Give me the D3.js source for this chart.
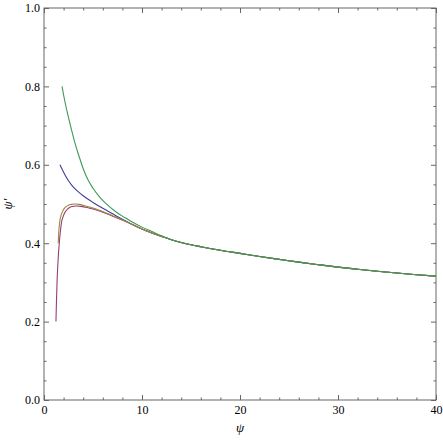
<!DOCTYPE html>
<html>
<head>
<meta charset="utf-8">
<script src="https://cdn.jsdelivr.net/npm/d3@7"></script>
<style>
  body { margin: 0; background: #fff; }
  svg { display: block; }
</style>
</head>
<body>
<div id="chart"></div>
<script>
// shared tail where all four curves merge
const tailPsi = [9, 10, 11, 12, 13, 14, 15, 16, 18, 20, 22, 24, 26, 28, 30, 32, 34, 36, 38, 40]
const tailVal = [0.448, 0.436, 0.426, 0.417, 0.409, 0.402, 0.396, 0.391, 0.382, 0.374, 0.366, 0.3588, 0.3518, 0.3452, 0.339, 0.3336, 0.3285, 0.3238, 0.3197, 0.316]

const bluePsi = [1.63, 1.8, 2.0, 2.4, 2.8, 3.2, 3.6, 4.0, 4.5, 5.0, 6.0, 7.0, 8.0]
const blueVal = [0.600, 0.591, 0.581, 0.563, 0.549, 0.538, 0.529, 0.521, 0.512, 0.504, 0.489, 0.475, 0.461]

const magentaPsi = [1.22, 1.27, 1.33, 1.40, 1.48, 1.56, 1.67, 1.80, 1.97, 2.14, 2.4, 2.65, 3.0, 3.33, 3.8, 4.4, 5.0, 6.0, 7.0, 8.0]
const magentaVal = [0.200, 0.250, 0.300, 0.340, 0.375, 0.400, 0.430, 0.455, 0.469, 0.479, 0.487, 0.492, 0.494, 0.495, 0.494, 0.491, 0.487, 0.479, 0.469, 0.459]

const yellowPsi = [1.45, 1.5, 1.55, 1.63, 1.75, 1.97, 2.2, 2.48, 2.8, 3.16, 3.6, 4.2, 5.0, 6.0, 7.0, 8.0]
const yellowVal = [0.400, 0.425, 0.442, 0.459, 0.472, 0.485, 0.492, 0.497, 0.499, 0.500, 0.499, 0.495, 0.490, 0.481, 0.470, 0.459]

const greenPsi = [1.84, 2.0, 2.4, 2.8, 3.2, 3.6, 4.0, 4.5, 5.0, 5.7, 6.5, 7.4, 8.2, 9, 10, 11, 12]
const greenVal = [0.800, 0.778, 0.731, 0.690, 0.652, 0.620, 0.590, 0.561, 0.540, 0.517, 0.497, 0.479, 0.466, 0.454, 0.441, 0.430, 0.419]

const xMajor = [0, 10, 20, 30, 40]
const yMajor = [0, 0.2, 0.4, 0.6, 0.8, 1.0]

const series = [
  { psi: bluePsi, val: blueVal, color: "#3f3d99" },
  { psi: magentaPsi, val: magentaVal, color: "#993d71" },
  { psi: yellowPsi, val: yellowVal, color: "#998b3d" },
  { psi: greenPsi, val: greenVal, color: "#3d9956" }
]

function withTail(s) {
  const last = s.psi[s.psi.length - 1]
  const pts = s.psi.map((p, i) => [p, s.val[i]])
  tailPsi.forEach((p, i) => { if (p > last) pts.push([p, tailVal[i]]) })
  return pts
}

const width = 443
const height = 441
const margin = { top: 8, right: 7, bottom: 41, left: 44 }
const serif = "Liberation Serif, DejaVu Serif, serif"

const xScale = d3.scaleLinear().domain([0, 40]).range([margin.left, width - margin.right])
const yScale = d3.scaleLinear().domain([0, 1]).range([height - margin.bottom, margin.top])

const xMinor = d3.range(0, 40.01, 2).filter(d => d % 10 !== 0)
const yMinor = d3.range(0, 1.001, 0.05).map(d => Math.round(d * 100) / 100).filter(d => Math.round(d * 100) % 20 !== 0)

const svg = d3.select("#chart")
  .append("svg")
  .attr("width", width)
  .attr("height", height)
  .style("font-family", serif)

const axisColor = "#666"

function drawAxis(axis, transform, labels) {
  const g = svg.append("g").attr("transform", transform).call(axis)
  g.attr("font-family", null).attr("font-size", null)
  g.select(".domain").remove()
  g.selectAll(".tick line").attr("stroke", axisColor)
  if (!labels) g.selectAll(".tick text").remove()
  else g.selectAll(".tick text").attr("fill", "#000").style("font-family", serif).style("font-size", "12px")
  return g
}

// bottom / left with labels
drawAxis(d3.axisBottom(xScale).tickValues(xMajor).tickSize(-5).tickPadding(5).tickFormat(d3.format("d")),
  `translate(0,${height - margin.bottom})`, true)
drawAxis(d3.axisBottom(xScale).tickValues(xMinor).tickSize(-2.5), `translate(0,${height - margin.bottom})`, false)
drawAxis(d3.axisLeft(yScale).tickValues(yMajor).tickSize(-5).tickPadding(4).tickFormat(d3.format(".1f")),
  `translate(${margin.left},0)`, true)
drawAxis(d3.axisLeft(yScale).tickValues(yMinor).tickSize(-2.5), `translate(${margin.left},0)`, false)

// mirrored ticks top / right
drawAxis(d3.axisTop(xScale).tickValues(xMajor).tickSize(-5), `translate(0,${margin.top})`, false)
drawAxis(d3.axisTop(xScale).tickValues(xMinor).tickSize(-2.5), `translate(0,${margin.top})`, false)
drawAxis(d3.axisRight(yScale).tickValues(yMajor).tickSize(-5), `translate(${width - margin.right},0)`, false)
drawAxis(d3.axisRight(yScale).tickValues(yMinor).tickSize(-2.5), `translate(${width - margin.right},0)`, false)

svg.append("rect")
  .attr("x", margin.left)
  .attr("y", margin.top)
  .attr("width", width - margin.left - margin.right)
  .attr("height", height - margin.top - margin.bottom)
  .attr("fill", "none")
  .attr("stroke", axisColor)
  .attr("stroke-width", 1)

const line = d3.line()
  .x(d => xScale(d[0]))
  .y(d => yScale(d[1]))
  .curve(d3.curveMonotoneX)

svg.selectAll("path.curve")
  .data(series)
  .enter()
  .append("path")
  .attr("class", "curve")
  .attr("d", d => line(withTail(d)))
  .attr("fill", "none")
  .attr("stroke", d => d.color)
  .attr("stroke-width", 1.1)

svg.append("text")
  .attr("x", xScale(20))
  .attr("y", 432)
  .attr("text-anchor", "middle")
  .style("font-family", serif)
  .style("font-style", "italic")
  .style("font-size", "13px")
  .text("ψ")

svg.append("text")
  .attr("transform", `translate(12,${yScale(0.5)}) rotate(-90)`)
  .attr("text-anchor", "middle")
  .style("font-family", serif)
  .style("font-style", "italic")
  .style("font-size", "13px")
  .text("ψ′")
</script>
</body>
</html>
